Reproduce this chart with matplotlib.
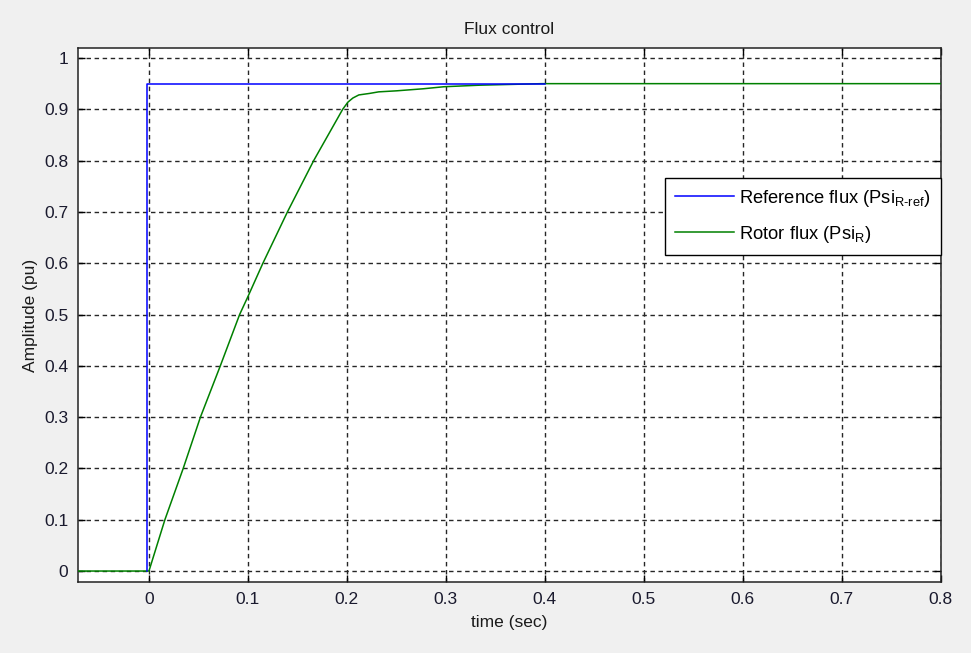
import matplotlib
matplotlib.use("Agg")
import matplotlib.pyplot as plt

plt.rcParams['font.family'] = ['Liberation Sans', 'DejaVu Sans']
plt.rcParams['mathtext.fontset'] = 'custom'
plt.rcParams['mathtext.rm'] = 'Liberation Sans'
plt.rcParams['mathtext.it'] = 'Liberation Sans'
plt.rcParams['mathtext.default'] = 'regular'

# Data
t_ref = [-0.0015, -0.0015, 0.4]
psi_ref = [0.0, 0.95, 0.95]

t_rotor = [-0.072, 0.0, 0.0161, 0.0346, 0.052, 0.0721, 0.0916, 0.1, 0.1151, 0.1399,
           0.1664, 0.1957, 0.201, 0.206, 0.212, 0.223, 0.232, 0.25, 0.277,
           0.298, 0.334, 0.397, 0.8]
psi_rotor = [0.0, 0.0, 0.1, 0.2, 0.3, 0.4, 0.5, 0.535, 0.6, 0.7,
             0.8, 0.9, 0.914, 0.922, 0.928, 0.931, 0.934, 0.936, 0.94,
             0.944, 0.947, 0.95, 0.95]

xticks = [0, 0.1, 0.2, 0.3, 0.4, 0.5, 0.6, 0.7, 0.8]
xticklabels = ['0', '0.1', '0.2', '0.3', '0.4', '0.5', '0.6', '0.7', '0.8']
yticks = [0, 0.1, 0.2, 0.3, 0.4, 0.5, 0.6, 0.7, 0.8, 0.9, 1]
yticklabels = ['0', '0.1', '0.2', '0.3', '0.4', '0.5', '0.6', '0.7', '0.8', '0.9', '1']

fig = plt.figure(figsize=(9.71, 6.53), dpi=100, facecolor='#f0f0f0')
ax = fig.add_axes([0.0803, 0.1087, 0.969 - 0.0803, 0.9265 - 0.1087])
ax.set_facecolor('white')

ax.plot(t_rotor, psi_rotor, color='#008000', lw=1.1, label='Rotor flux (Psi$_{R}$)', zorder=3)
ax.plot(t_ref, psi_ref, color='#0000ff', lw=1.1, label=r'Reference flux (Psi$_{\text{R-ref}}$)', zorder=3)

ax.set_xlim(-0.0717, 0.8)
ax.set_ylim(-0.0214, 1.0195)
ax.set_xticks(xticks)
ax.set_xticklabels(xticklabels)
ax.set_yticks(yticks)
ax.set_yticklabels(yticklabels)

ax.grid(True, color='#262626', linestyle=(0, (3.2, 2.6)), linewidth=1.0)
ax.tick_params(direction='in', top=True, right=True, length=5, width=1,
               labelsize=12.5, colors='black', labelcolor='#1a1a2e', pad=7)
for s in ax.spines.values():
    s.set_linewidth(1.1)
    s.set_color('#222222')

ax.set_title('Flux control', fontsize=12.5, pad=10, color='#1a1a1a')
ax.set_xlabel('time (sec)', fontsize=12.5, labelpad=6, color='#1a1a1a')
ax.set_ylabel('Amplitude (pu)', fontsize=12.5, labelpad=4, color='#1a1a1a')

handles, labels = ax.get_legend_handles_labels()
leg = ax.legend(handles[::-1], labels[::-1], loc='upper right',
                bbox_to_anchor=(1.0, 0.757), borderaxespad=0,
                fontsize=13.2, handlelength=3.2, handletextpad=0.3,
                fancybox=False, framealpha=1, edgecolor='black',
                borderpad=0.55, labelspacing=0.8)
leg.get_frame().set_linewidth(1.0)

fig.savefig('out.png', dpi=100, facecolor=fig.get_facecolor())
